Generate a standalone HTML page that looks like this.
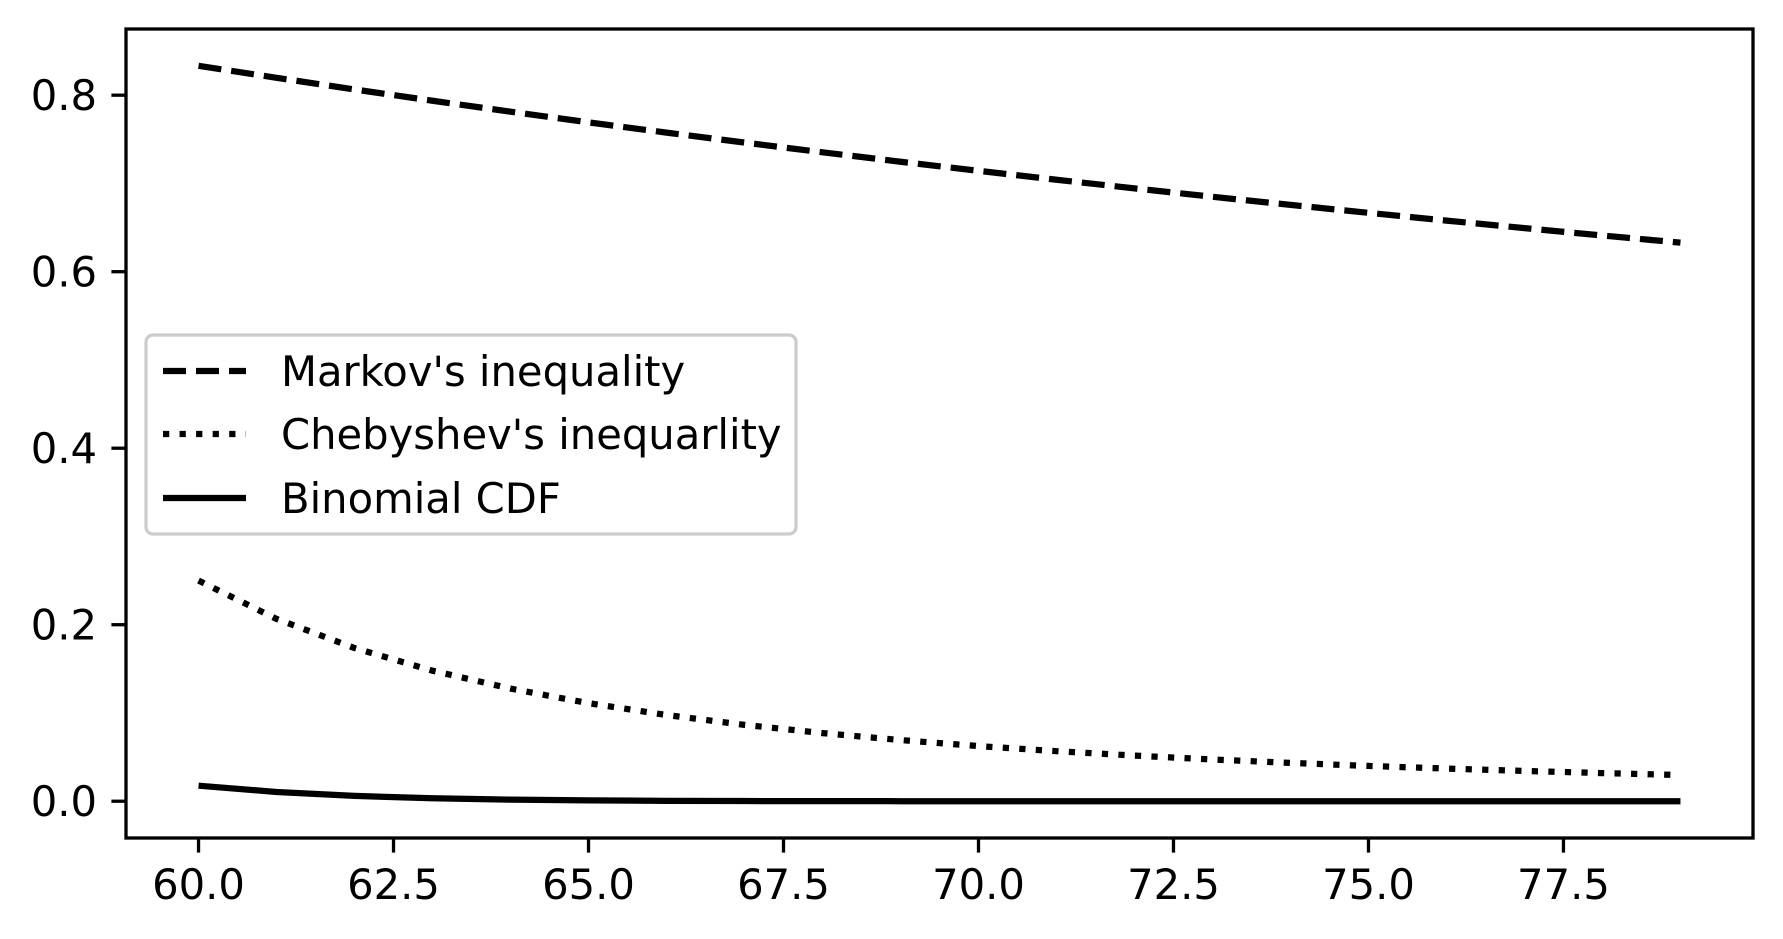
<!DOCTYPE html>
<html><head><meta charset="utf-8"><style>
html,body{margin:0;padding:0;background:#fff;}
svg{display:block;font-family:"DejaVu Sans","Liberation Sans",sans-serif;}
</style></head><body>
<svg id="chart" width="1783" height="939" viewBox="0 0 1783 939">
<rect x="0" y="0" width="1783" height="939" fill="#fff"/>
<g id="series"></g>
<g id="axes"></g>
<g id="legend"></g>
</svg>
<script>
const xValues = [60,61,62,63,64,65,66,67,68,69,70,71,72,73,74,75,76,77,78,79];
const markov = [0.8333,0.8197,0.8065,0.7937,0.7813,0.7692,0.7576,0.7463,0.7353,0.7246,0.7143,0.7042,0.6944,0.6849,0.6757,0.6667,0.6579,0.6494,0.6410,0.6329];
const chebyshev = [0.25,0.2066,0.1736,0.1479,0.1276,0.1111,0.0977,0.0865,0.0772,0.0693,0.0625,0.0567,0.0517,0.0473,0.0434,0.04,0.037,0.0343,0.0319,0.0297];
const binomial = [0.0176,0.0105,0.006,0.0033,0.0018,0.0009,0.00044,0.0002,0.0001,0.00004,0.00002,0,0,0,0,0,0,0,0,0];
const xTicks = [60,62.5,65,67.5,70,72.5,75,77.5];
const xTickLabels = ["60.0","62.5","65.0","67.5","70.0","72.5","75.0","77.5"];
const yTicks = [0,0.2,0.4,0.6,0.8];
const yTickLabels = ["0.0","0.2","0.4","0.6","0.8"];
const legendLabels = ["Markov's inequality","Chebyshev's inequarlity","Binomial CDF"];

const NS="http://www.w3.org/2000/svg";
const L=126,R=1753,T=29,B=838;
const xmin=59.07,xmax=79.93,ymin=-0.041667,ymax=0.875;
const xs=v=>L+(v-xmin)/(xmax-xmin)*(R-L);
const ys=v=>B-(v-ymin)/(ymax-ymin)*(B-T);
function mk(tag,attrs,parent){const e=document.createElementNS(NS,tag);for(const k in attrs)e.setAttribute(k,attrs[k]);parent.appendChild(e);return e;}
const series=document.getElementById('series'),axes=document.getElementById('axes'),legend=document.getElementById('legend');
const styles=[{d:"23 10"},{d:"6.25 10.3"},{d:""}];
const names=['markov-line','chebyshev-line','binomial-cdf-line'];
[markov,chebyshev,binomial].forEach((arr,i)=>{
  const pts=arr.map((v,j)=>xs(xValues[j]).toFixed(2)+','+ys(v).toFixed(2)).join(' ');
  const p=mk('polyline',{points:pts,fill:'none',stroke:'#000','stroke-width':6.25,'stroke-dasharray':styles[i].d||'none','stroke-linejoin':'round'},series);
  
  
});
const frame=mk('rect',{x:L,y:T,width:R-L,height:B-T,fill:'none',stroke:'#000','stroke-width':3.3},axes);


xTicks.forEach((v,i)=>{
  const x=xs(v);
  const t=mk('line',{x1:x,x2:x,y1:B,y2:B+14.6,stroke:'#000','stroke-width':3.3},axes);
  
  
  const tx=mk('text',{x:x,y:899,'font-size':41.7,'text-anchor':'middle',fill:'#000'},axes);
  tx.textContent=xTickLabels[i];
  
  
});
yTicks.forEach((v,i)=>{
  const y=ys(v);
  const t=mk('line',{x1:L-14.6,x2:L,y1:y,y2:y,stroke:'#000','stroke-width':3.3},axes);
  
  
  const tx=mk('text',{x:L-29,y:y+15,'font-size':41.7,'text-anchor':'end',fill:'#000'},axes);
  tx.textContent=yTickLabels[i];
  
  
});
const box=mk('rect',{x:146,y:335,width:650,height:199,rx:7,fill:'#fff','fill-opacity':0.8,stroke:'#ccc','stroke-width':3.3},legend);


const rowsY=[371,434,498];
legendLabels.forEach((lab,i)=>{
  const ln=mk('line',{x1:163,x2:246,y1:rowsY[i],y2:rowsY[i],stroke:'#000','stroke-width':6.25,'stroke-dasharray':styles[i].d||'none'},legend);
  
  
  const tx=mk('text',{x:281,y:rowsY[i]+15,'font-size':41.7,fill:'#000'},legend);
  tx.textContent=lab;
  
  
});
</script>
</body></html>
